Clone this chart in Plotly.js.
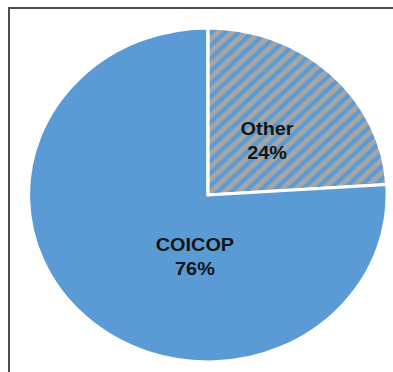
<!DOCTYPE html>
<html>
<head>
<meta charset="utf-8">
<script src="https://cdn.plot.ly/plotly-3.0.1.min.js"></script>
<style>
  html, body { margin: 0; padding: 0; background: #ffffff; }
  #wrap { position: relative; width: 393px; height: 372px; overflow: hidden; background: #ffffff; }
  #frame { position: absolute; left: 8px; top: 7px; width: 400px; height: 400px;
           border-left: 2px solid #4d4d4d; border-top: 2px solid #4d4d4d; box-sizing: border-box; }
  #chart { position: absolute; left: 0; top: 0; width: 366px; height: 372px;
           transform: scaleX(1.074); transform-origin: 0 0; }
</style>
</head>
<body>
<div id="wrap">
  <div id="frame"></div>
  <div id="chart"></div>
</div>
<script>
const categories = ['Other', 'COICOP'];
const shares = [24, 76];
const sliceColors = ['#A5A5A5', '#5B9BD5'];
const patternShapes = ['/', ''];

// label anchor positions (paper fractions) for each slice label
const labelX = [0.6785, 0.4961];
const labelY = [0.622, 0.311];

const trace = {
  type: 'pie',
  labels: categories,
  values: shares,
  sort: false,
  direction: 'clockwise',
  rotation: 0,
  hole: 0,
  marker: {
    colors: sliceColors,
    line: { color: '#ffffff', width: 3 },
    pattern: {
      shape: patternShapes,
      fgcolor: '#5B9BD5',
      bgcolor: '#A5A5A5',
      size: 9,
      solidity: 0.45,
      fillmode: 'replace'
    }
  },
  textinfo: 'none',
  hoverinfo: 'none',
  showlegend: false,
  domain: { x: [0.0724, 0.985], y: [0.027, 0.925] }
};

const labelFont = { family: 'Liberation Sans, Arial, sans-serif', size: 18.5, color: '#141414', weight: 'bold' };

const annotations = categories.map((c, i) => ({
  xref: 'paper', yref: 'paper',
  x: labelX[i], y: labelY[i],
  xanchor: 'center', yanchor: 'middle',
  text: '<b>' + c + '</b><br><b>' + shares[i] + '%</b>',
  showarrow: false,
  align: 'center',
  font: labelFont
}));

const layout = {
  width: 366,
  height: 372,
  margin: { l: 0, r: 0, t: 0, b: 0, pad: 0 },
  paper_bgcolor: 'rgba(0,0,0,0)',
  plot_bgcolor: 'rgba(0,0,0,0)',
  showlegend: false,
  font: { family: 'Liberation Sans, Arial, sans-serif' },
  annotations: annotations
};

Plotly.newPlot('chart', [trace], layout, { staticPlot: true, displayModeBar: false });
</script>
</body>
</html>
